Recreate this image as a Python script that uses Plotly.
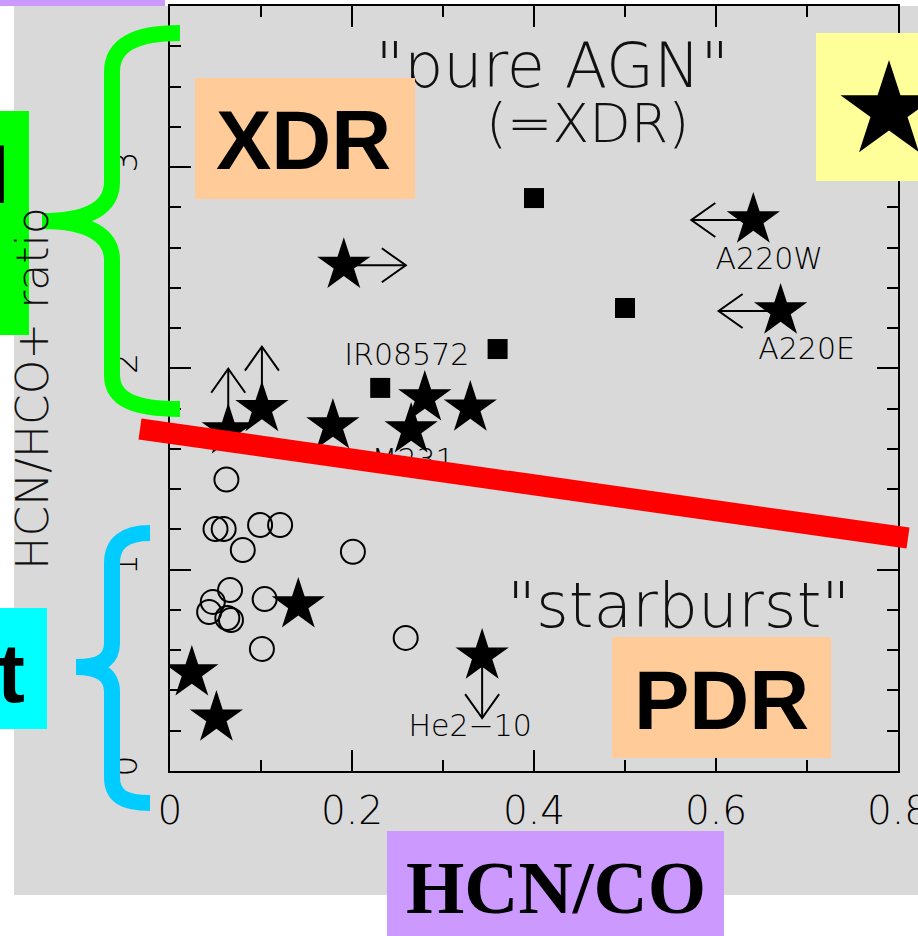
import math
import plotly.graph_objects as go

# ---- data: HCN/CO (x) versus HCN/HCO+ (y) ----
star_x = [0.191, 0.641, 0.671, 0.101, 0.064, 0.179, 0.280, 0.265, 0.330, 0.141, 0.024, 0.051, 0.343]
star_y = [2.512, 2.737, 2.285, 1.800, 1.690, 1.714, 1.853, 1.694, 1.803, 0.825, 0.487, 0.263, 0.571]
star_limit = ["right", "left", "left", "up", "up", None, None, None, None, None, None, None, "down"]
star_name = [None, "A220W", "A220E", None, None, None, "IR08572", "M231", None, None, None, None, "He2\u221210"]

square_x = [0.400, 0.500, 0.360, 0.231]
square_y = [2.846, 2.300, 2.096, 1.903]

circle_x = [0.062, 0.050, 0.059, 0.099, 0.121, 0.080, 0.201, 0.066, 0.047, 0.043, 0.063, 0.067, 0.104, 0.101, 0.259]
circle_y = [1.448, 1.202, 1.202, 1.222, 1.222, 1.098, 1.089, 0.899, 0.840, 0.790, 0.760, 0.750, 0.854, 0.606, 0.661]

x_ticks = [0, 0.2, 0.4, 0.6, 0.8]
x_ticklabels = ["0", "0.2", "0.4", "0.6", "0.8"]
y_ticks = [0, 1, 2, 3]
y_ticklabels = ["0", "1", "2", "3"]

captions = ["\"pure AGN\"", "(=XDR)", "\"starburst\""]

# ---- layout geometry ----
FIG_W, FIG_H = 918, 936
M_L, M_R, M_T, M_B = 170, 20, 6, 165
PLOT_W = FIG_W - M_L - M_R
PLOT_H = FIG_H - M_T - M_B
X_RANGE = [0, 0.8]
Y_RANGE = [0, 3.8]
XS = PLOT_W / (X_RANGE[1] - X_RANGE[0])   # px per x unit
YS = PLOT_H / (Y_RANGE[1] - Y_RANGE[0])   # px per y unit

THIN = "DejaVu Sans"
THIN_W = 200
ARROW_PX = 62      # limit-arrow length
HEAD_LEN = 24      # arrowhead depth
HEAD_HALF = 17     # arrowhead half-width

# label offsets (px right, px down) from their star
label_offset = {"A220W": (16, 41), "A220E": (26, 41), "IR08572": (-18, -40),
                "M231": (2, 33), "He2\u221210": (-12, 72)}
caption_pos = [(0.420, 3.475), (0.459, 3.190), (0.559, 0.795)]
caption_size = [62, 54, 63]


def fx(p):
    return (p - M_L) / PLOT_W


def fy(p):
    return (M_T + PLOT_H - p) / PLOT_H


def path(cmds):
    out = []
    for c in cmds:
        op, pts = c[0], c[1:]
        coords = " ".join(f"{fx(pts[i]):.5f},{fy(pts[i + 1]):.5f}" for i in range(0, len(pts), 2))
        out.append(op + coords)
    return " ".join(out)


fig = go.Figure()

fig.add_trace(go.Scatter(
    x=circle_x, y=circle_y, mode="markers",
    marker=dict(symbol="circle-open", size=24, color="black", line=dict(width=2, color="black")),
    cliponaxis=False, showlegend=False))
fig.add_trace(go.Scatter(
    x=square_x, y=square_y, mode="markers",
    marker=dict(symbol="square", size=20, color="black", line=dict(width=0)),
    showlegend=False))

# limit arrows (open V heads), built in screen px around each star
screen_dir = {"right": (1, 0), "left": (-1, 0), "up": (0, -1), "down": (0, 1)}
arr_x, arr_y = [], []
for sx, sy, lim in zip(star_x, star_y, star_limit):
    if lim is None:
        continue
    ux, uy = screen_dir[lim]
    nx, ny = -uy, ux
    tx, ty = ux * ARROW_PX, uy * ARROW_PX
    bx, by = tx - ux * HEAD_LEN, ty - uy * HEAD_LEN
    seq = [(0, 0), (tx, ty), None,
           (bx + nx * HEAD_HALF, by + ny * HEAD_HALF), (tx, ty),
           (bx - nx * HEAD_HALF, by - ny * HEAD_HALF), None]
    for p in seq:
        if p is None:
            arr_x.append(None)
            arr_y.append(None)
        else:
            arr_x.append(sx + p[0] / XS)
            arr_y.append(sy - p[1] / YS)
fig.add_trace(go.Scatter(
    x=arr_x, y=arr_y, mode="lines", line=dict(color="black", width=2),
    hoverinfo="skip", showlegend=False))

fig.add_trace(go.Scatter(
    x=star_x, y=star_y, mode="markers",
    marker=dict(symbol="star", size=40, color="black", line=dict(width=0)),
    showlegend=False))

# object names
lx, ly, lt = [], [], []
for sx, sy, name in zip(star_x, star_y, star_name):
    if name is None:
        continue
    dx, dy = label_offset[name]
    lx.append(sx + dx / XS)
    ly.append(sy - dy / YS)
    lt.append(name)
fig.add_trace(go.Scatter(
    x=lx, y=ly, text=lt, mode="text", textposition="middle center",
    textfont=dict(family=THIN, size=30, color="black", weight=THIN_W),
    cliponaxis=False, showlegend=False))

# region captions
for (cx_, cy_), txt, sz in zip(caption_pos, captions, caption_size):
    fig.add_trace(go.Scatter(
        x=[cx_], y=[cy_], text=[txt], mode="text", textposition="middle center",
        textfont=dict(family=THIN, size=sz, color="#111111", weight=THIN_W),
        cliponaxis=False, showlegend=False))

BOLD = dict(family="Liberation Sans", size=83, color="black", weight="bold")
annotations = [
    dict(x=fx(303.5), y=fy(140), xref="paper", yref="paper", text="XDR", showarrow=False,
         xanchor="center", yanchor="middle", font=BOLD),
    dict(x=fx(721), y=fy(700), xref="paper", yref="paper", text="PDR", showarrow=False,
         xanchor="center", yanchor="middle", font=BOLD),
    dict(x=fx(11), y=fy(174), xref="paper", yref="paper", text="AGN", showarrow=False,
         xanchor="right", yanchor="middle", font=BOLD),
    dict(x=fx(27), y=fy(673), xref="paper", yref="paper", text="Starburst", showarrow=False,
         xanchor="right", yanchor="middle", font=BOLD),
    dict(x=fx(556), y=fy(888), xref="paper", yref="paper", text="HCN/CO", showarrow=False,
         xanchor="center", yanchor="middle",
         font=dict(family="Liberation Serif", size=75, color="black", weight="bold")),
]


def rect(x0, y0, x1, y1, color, layer="above"):
    return dict(type="rect", xref="paper", yref="paper", x0=fx(x0), x1=fx(x1), y0=fy(y1), y1=fy(y0),
                fillcolor=color, line=dict(width=0), layer=layer)


# five-pointed star emblem
ecx, ecy, R = 889, 111, 51
pts = []
for k in range(10):
    r = R if k % 2 == 0 else R * 0.382
    a = math.radians(-90 + 36 * k)
    pts.append((ecx + r * math.cos(a), ecy + r * math.sin(a)))
star_path = "M" + " L".join(f"{fx(px):.5f},{fy(py):.5f}" for px, py in pts) + " Z"

green_brace = path([
    ("M", 180, 33), ("C", 135, 33, 112, 45, 112, 72), ("L", 112, 182),
    ("C", 112, 207, 90, 221, 42, 221), ("C", 90, 221, 112, 236, 112, 260),
    ("L", 112, 375), ("C", 112, 400, 135, 409, 180, 409)])
cyan_brace = path([
    ("M", 150, 533), ("C", 125, 533, 112, 543, 112, 563), ("L", 112, 643),
    ("C", 112, 660, 100, 667, 76, 667), ("C", 100, 667, 112, 675, 112, 692),
    ("L", 112, 777), ("C", 112, 797, 125, 803, 150, 803)])

shapes = [
    rect(14, 6, 940, 895, "#d9d9d9", layer="below"),
    rect(-5, -5, 165, 6, "#cc99ff"),
    rect(195, 78, 415, 199, "#ffcc99"),
    rect(612, 637, 831, 758, "#ffcc99"),
    rect(816, 33, 940, 181, "#ffff99"),
    rect(-5, 111, 29, 335, "#00ff00"),
    rect(-5, 608, 47, 729, "#00ffff"),
    rect(387, 831, 724, 945, "#cc99ff"),
    dict(type="path", xref="paper", yref="paper", path=star_path, fillcolor="black",
         line=dict(width=0), layer="above"),
    dict(type="path", xref="paper", yref="paper", path=green_brace,
         line=dict(color="#00ff00", width=16), layer="above"),
    dict(type="path", xref="paper", yref="paper", path=cyan_brace,
         line=dict(color="#00ccff", width=16), layer="above"),
    dict(type="line", xref="paper", yref="paper", x0=fx(140), y0=fy(429), x1=fx(908), y1=fy(538),
         line=dict(color="#ff0000", width=21), layer="above"),
]

axis_common = dict(
    showgrid=False, zeroline=False, showline=True, linecolor="black", linewidth=2,
    mirror="allticks", ticks="inside", ticklen=21, tickwidth=2, tickcolor="black",
    automargin=False, ticklabeloverflow="allow",
)

fig.update_layout(
    template="none",
    width=FIG_W, height=FIG_H,
    margin=dict(l=M_L, r=M_R, t=M_T, b=M_B, pad=0),
    paper_bgcolor="white", plot_bgcolor="#d9d9d9",
    showlegend=False,
    xaxis=dict(range=X_RANGE, tickvals=x_ticks, ticktext=x_ticklabels,
               tickfont=dict(family=THIN, size=39, color="black", weight=THIN_W),
               ticklabelstandoff=4,
               minor=dict(dtick=0.1, tick0=0, ticks="inside", ticklen=11, tickwidth=2, tickcolor="black"),
               **axis_common),
    yaxis=dict(range=Y_RANGE, tickvals=y_ticks, ticktext=y_ticklabels, tickangle=-90,
               tickfont=dict(family=THIN, size=33, color="black", weight=THIN_W),
               ticklabelstandoff=18,
               minor=dict(dtick=0.2, tick0=0, ticks="inside", ticklen=11, tickwidth=2, tickcolor="black"),
               title=dict(text="HCN/HCO+ ratio", standoff=43,
                          font=dict(family=THIN, size=44, color="#111111", weight=THIN_W)),
               **axis_common),
    shapes=shapes,
)
fig.update_layout(annotations=annotations)

fig.write_html("out.html")
